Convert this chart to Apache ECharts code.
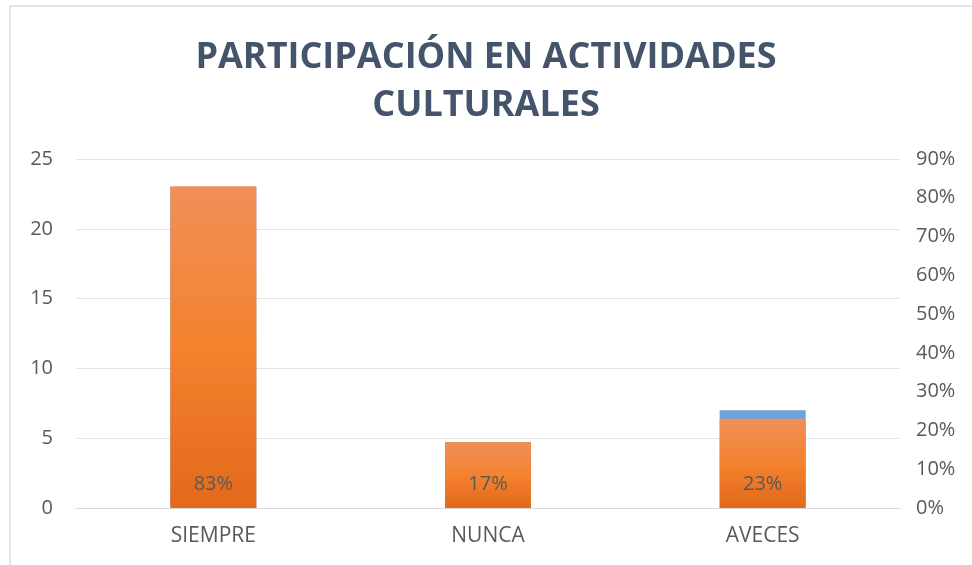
<!DOCTYPE html>
<html>
<head>
<meta charset="utf-8">
<script src="https://cdn.jsdelivr.net/npm/echarts@6/dist/echarts.min.js"></script>
<style>
  html, body { margin: 0; padding: 0; background: #fff; }
  #chart { width: 972px; height: 565px; }
  #frame { position: absolute; left: 9px; top: 5px; width: 980px; height: 600px;
           border-left: 2px solid #e1e5ee; border-top: 2px solid #e1e5ee; pointer-events: none; }
</style>
</head>
<body>
<div id="chart"></div>
<div id="frame"></div>
<script>
// datos
const categorias = ['SIEMPRE', 'NUNCA', 'AVECES']
const frecuencias = [23, 4, 7]
const porcentajes = [0.83, 0.17, 0.23]

const chart = echarts.init(document.getElementById('chart'))

const naranja = new echarts.graphic.LinearGradient(0, 0, 0, 1, [
    { offset: 0, color: '#f08f58' },
    { offset: 0.5, color: '#f4822f' },
    { offset: 1, color: '#e3691b' }
])

const fuente = 'Open Sans'

const option = {
    animation: false,
    title: {
        text: 'PARTICIPACIÓN EN ACTIVIDADES\nCULTURALES',
        left: 'center',
        top: 29,
        textStyle: {
            fontFamily: fuente,
            fontWeight: 'bold',
            fontSize: 36,
            lineHeight: 48,
            color: '#44546a'
        }
    },
    grid: { left: 76, right: 72, top: 159, bottom: 57 },
    xAxis: {
        type: 'category',
        data: categorias,
        axisLine: { lineStyle: { color: '#d9d9d9' } },
        axisTick: { show: false },
        axisLabel: { color: '#595959', fontSize: 21, fontFamily: fuente, margin: 18 }
    },
    yAxis: [{
        type: 'value',
        min: 0, max: 25, interval: 5,
        axisLine: { show: false },
        axisTick: { show: false },
        splitLine: { lineStyle: { color: '#e3e3e3' } },
        axisLabel: { color: '#595959', fontSize: 20, fontFamily: fuente, margin: 23 }
    }, {
        type: 'value',
        min: 0, max: 0.9, interval: 0.1,
        axisLine: { show: false },
        axisTick: { show: false },
        splitLine: { show: false },
        axisLabel: {
            color: '#595959', fontSize: 20, fontFamily: fuente, margin: 16,
            formatter: v => Math.round(v * 100) + '%'
        }
    }],
    series: [{
        name: 'Frecuencia',
        type: 'bar',
        yAxisIndex: 0,
        data: frecuencias,
        barWidth: 86,
        itemStyle: { color: '#6fa2da' }
    }, {
        name: 'Porcentaje',
        type: 'bar',
        yAxisIndex: 1,
        data: porcentajes,
        barWidth: 86,
        barGap: '-100%',
        itemStyle: { color: naranja },
        label: {
            show: true,
            position: 'insideBottom',
            distance: 14,
            color: '#595959',
            fontSize: 20,
            fontFamily: fuente,
            formatter: p => Math.round(p.value * 100) + '%'
        }
    }]
}

chart.setOption(option)
</script>
</body>
</html>
